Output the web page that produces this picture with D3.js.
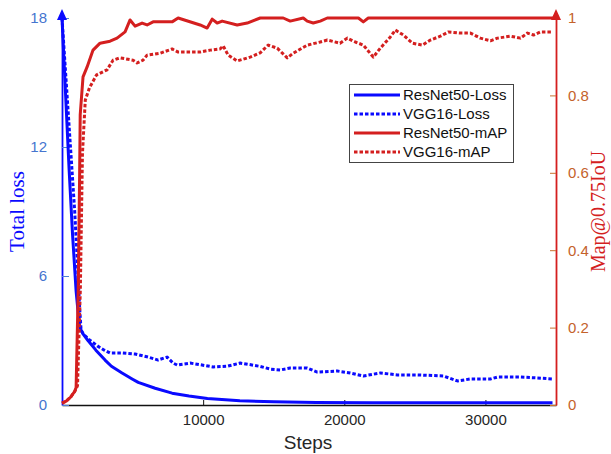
<!DOCTYPE html>
<html><head><meta charset="utf-8">
<script src="https://cdn.jsdelivr.net/npm/d3@7"></script>
<style>body{margin:0;background:#fff}svg{display:block}</style>
</head><body><svg id="c" width="611" height="454"></svg>
<script>
const xTicks = [10000, 20000, 30000];
const lossTicks = [0, 6, 12, 18];
const mapTicks = [0, 0.2, 0.4, 0.6, 0.8, 1];
const seriesNames = ["ResNet50-Loss", "VGG16-Loss", "ResNet50-mAP", "VGG16-mAP"];

const resLossSteps = [0,250,500,750,1000,1200,1300,1500,1840,2400,3050,3500,4255,5000,5400,6600,7800,9000,10300,12600,15000,18000,22000,28000,34752];
const resLossVals  = [18,14.5,11,7.9,5.3,3.9,3.55,3.3,3.0,2.55,2.09,1.8,1.49,1.2,1.05,0.78,0.55,0.42,0.3,0.2,0.15,0.12,0.1,0.1,0.1];

const vggLossSteps = [0,300,600,900,1100,1250,1350,1500,2000,2500,3000,3400,4255,5177,6099,6809,7447,7872,8156,9078,10000,10709,11702,12624,13300,14000,14750,15460,16170,17376,18085,19504,20426,21348,22553,23759,25177,27021,28014,28936,30355,30851,31560,32482,33688,34752];
const vggLossVals  = [18,15,12,9,6.5,4.5,3.5,3.3,3.0,2.75,2.55,2.42,2.42,2.37,2.23,2.09,2.23,1.95,1.86,1.95,1.85,1.77,1.8,1.95,1.88,1.8,1.67,1.63,1.72,1.72,1.53,1.58,1.49,1.35,1.49,1.40,1.40,1.35,1.12,1.21,1.21,1.30,1.30,1.30,1.26,1.21];

const resMapSteps = [0,300,600,900,1000,1150,1250,1290,1490,1773,2199,2695,3404,3900,4468,4823,5177,5674,6028,6454,7801,8227,9787,10284,10638,10993,11348,12411,13121,14043,15674,16170,17092,17376,17801,18298,18794,21000,21348,21700,34800];
const resMapVals  = [0.005,0.01,0.02,0.035,0.045,0.3,0.6,0.75,0.848,0.873,0.917,0.935,0.94,0.948,0.964,0.995,0.979,0.987,0.982,0.99,0.99,1.0,0.982,0.974,0.997,0.987,0.992,0.982,0.987,1.0,1.0,0.992,1.0,0.992,0.987,0.992,1.0,1.0,0.99,1.0,1.0];

const vggMapSteps = [0,300,600,900,1100,1300,1450,1650,1950,2450,3191,3617,4113,5035,5319,5745,6028,6950,7800,8230,9790,10500,11200,11420,11770,12410,13330,14040,14610,15250,15960,16380,17380,18300,18800,19700,20213,20780,21348,22057,22553,23262,23617,24184,24823,25532,26099,26809,27376,28227,28936,29645,30355,30851,31773,32482,32979,33404,33901,34752];
const vggMapVals  = [0.005,0.01,0.02,0.035,0.05,0.3,0.65,0.788,0.82,0.853,0.866,0.891,0.897,0.891,0.884,0.891,0.904,0.909,0.92,0.912,0.912,0.917,0.92,0.928,0.904,0.889,0.899,0.91,0.93,0.922,0.897,0.909,0.93,0.938,0.943,0.935,0.948,0.938,0.930,0.899,0.922,0.951,0.969,0.956,0.935,0.930,0.943,0.953,0.964,0.961,0.961,0.948,0.941,0.948,0.953,0.948,0.961,0.956,0.964,0.964];

const BLUE = "#0a0aff", RED = "#d41f1f";
const svg = d3.select("#c");
const L = 62, R = 556, T = 18, B = 405;
const x = d3.scaleLinear().domain([0, 35000]).range([L, R]);
const yL = d3.scaleLinear().domain([0, 18]).range([B, T]);
const yR = d3.scaleLinear().domain([0, 1]).range([B, T]);
const tickFont = "Liberation Sans, Arial, sans-serif";

function zip(s, v){ return s.map((d,i)=>[d, v[i]]); }
const lineL = d3.line().x(d=>x(d[0])).y(d=>yL(d[1]));
const lineR = d3.line().x(d=>x(d[0])).y(d=>yR(d[1]));

const series = [
  {name: seriesNames[0], data: zip(resLossSteps, resLossVals), line: lineL, color: BLUE, dash: null},
  {name: seriesNames[1], data: zip(vggLossSteps, vggLossVals), line: lineL, color: BLUE, dash: "3.5,2"},
  {name: seriesNames[2], data: zip(resMapSteps, resMapVals), line: lineR, color: RED, dash: null},
  {name: seriesNames[3], data: zip(vggMapSteps, vggMapVals), line: lineR, color: RED, dash: "3.5,2"}
];

const xAxis = d3.axisBottom(x).tickValues(xTicks).tickSizeInner(-5).tickSizeOuter(0).tickPadding(9).tickFormat(d3.format("d"));
const gx = svg.append("g").attr("transform", `translate(0,${B})`).call(xAxis);
gx.select(".domain").attr("stroke", "#111").attr("stroke-width", 1.6);
gx.selectAll(".tick line").attr("stroke", "#111");
gx.selectAll("text").attr("font-family", tickFont).attr("font-size", 15).attr("fill", "#262626");

const yAxisL = d3.axisLeft(yL).tickValues(lossTicks).tickSizeInner(-7).tickSizeOuter(0).tickPadding(15);
const gl = svg.append("g").attr("transform", `translate(${L},0)`).call(yAxisL);
gl.select(".domain").attr("stroke", BLUE).attr("stroke-width", 1.8);
gl.selectAll(".tick line").attr("stroke", "#4f7fd6");
gl.selectAll("text").attr("font-family", tickFont).attr("font-size", 15).attr("fill", "#4575cf");

const yAxisR = d3.axisRight(yR).tickValues(mapTicks).tickSizeInner(-6).tickSizeOuter(0).tickPadding(12).tickFormat(d=>d3.format("")(d));
const gr = svg.append("g").attr("transform", `translate(${R},0)`).call(yAxisR);
gr.select(".domain").attr("stroke", RED).attr("stroke-width", 1.8);
gr.selectAll(".tick line").attr("stroke", "#c8702e");
gr.selectAll("text").attr("font-family", tickFont).attr("font-size", 15).attr("fill", "#c4622b");

series.forEach(s => {
  svg.append("path").datum(s.data).attr("d", s.line)
    .attr("fill", "none").attr("stroke", s.color).attr("stroke-width", 3)
    .attr("stroke-dasharray", s.dash).attr("stroke-linejoin", "round");
});

function arrow(cx, color){
  svg.append("path").attr("d", `M${cx},${T-9} L${cx-5},${T+2} L${cx+5},${T+2} Z`).attr("fill", color);
}
arrow(L, BLUE);
arrow(R, RED);

svg.append("text").attr("transform", `translate(24,${(T+B)/2}) rotate(-90)`).attr("text-anchor","middle")
  .attr("font-family","Liberation Serif, Times New Roman, serif").attr("font-size",21).attr("fill", BLUE).text("Total loss");
svg.append("text").attr("transform", `translate(605,${(T+B)/2}) rotate(-90)`).attr("text-anchor","middle")
  .attr("font-family","Liberation Serif, Times New Roman, serif").attr("font-size",20).attr("fill", RED).text("Map@0.75IoU");
svg.append("text").attr("x", 308).attr("y", 449).attr("text-anchor","middle")
  .attr("font-family", tickFont).attr("font-size", 19).attr("fill", "#262626").text("Steps");

const lg = svg.append("g");
lg.append("rect").attr("x", 349.5).attr("y", 84.5).attr("width", 164).attr("height", 78)
  .attr("fill", "#fff").attr("stroke", "#444").attr("stroke-width", 1);
series.forEach((s, i) => {
  const yy = 95 + i * 19;
  lg.append("line").attr("x1", 354).attr("x2", 400).attr("y1", yy).attr("y2", yy)
    .attr("stroke", s.color).attr("stroke-width", 3).attr("stroke-dasharray", s.dash);
  lg.append("text").attr("x", 403).attr("y", yy).attr("dy", "0.35em")
    .attr("font-family", tickFont).attr("font-size", 15).attr("fill", "#111").text(s.name);
});
</script></body></html>
